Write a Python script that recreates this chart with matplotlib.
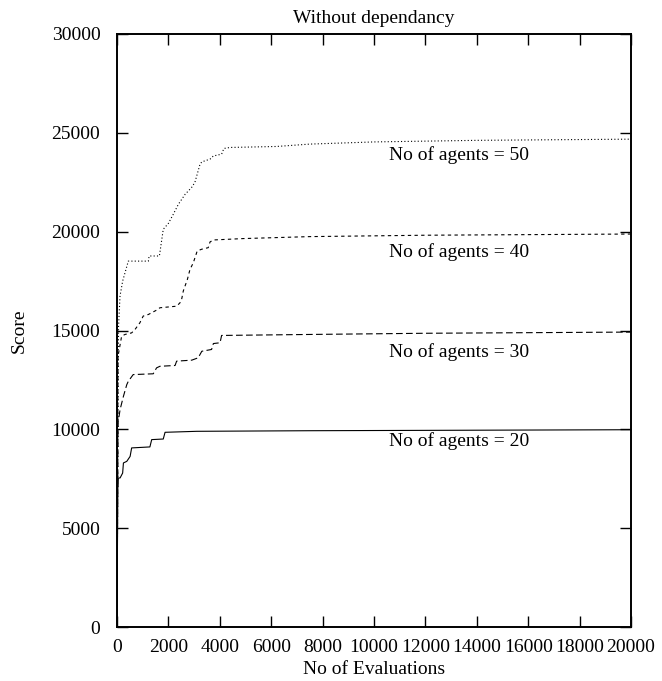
import numpy as np
import matplotlib
matplotlib.use("Agg")
import matplotlib.pyplot as plt

# curve for 50 agents (dotted)
x50 = [0, 60, 117, 220, 440, 1220, 1250, 1650, 1800, 2000, 2190, 2390, 2650, 2900, 3030,
       3230, 3300, 3620, 3750, 4070, 4160, 4400, 6210, 7500, 10000, 14000, 20000]
y50 = [0, 15200, 16740, 17500, 18510, 18510, 18770, 18770, 20120, 20420, 20880, 21390, 21890,
       22230, 22490, 23410, 23530, 23670, 23830, 23920, 24210, 24260, 24310, 24430, 24540, 24620, 24680]

# curve for 40 agents (short dashes)
x40 = [0, 40, 180, 310, 570, 700, 890, 1020, 1220, 1540, 1670, 2320, 2450, 2520, 2580, 2740,
       2840, 2970, 3120, 3290, 3550, 3620, 3750, 4900, 7500, 12000, 20000]
y40 = [0, 13700, 14710, 14800, 14880, 15050, 15390, 15730, 15810, 16030, 16150, 16230, 16400,
       16610, 17000, 17590, 18090, 18430, 19020, 19110, 19190, 19480, 19580, 19650, 19750, 19820, 19880]

# curve for 30 agents (long dashes)
x30 = [0, 40, 120, 250, 380, 440, 630, 1410, 1540, 1670, 2260, 2320, 2910, 3160, 3300, 3680,
       3750, 4010, 4070, 7510, 12000, 20000]
y30 = [0, 10320, 11000, 11670, 12260, 12430, 12770, 12810, 13110, 13190, 13230, 13450, 13500,
       13620, 13950, 14040, 14340, 14380, 14750, 14800, 14860, 14920]

# curve for 20 agents (solid)
x20 = [0, 30, 50, 120, 220, 250, 380, 510, 570, 1280, 1350, 1800, 1870, 3100, 7510, 20000]
y20 = [0, 6940, 7540, 7540, 7790, 8300, 8380, 8630, 9060, 9110, 9480, 9510, 9850, 9900, 9930, 9980]

labels = ["No of agents = 50", "No of agents = 40", "No of agents = 30", "No of agents = 20"]
label_x = 10580
label_y = [23620, 18740, 13670, 9170]   # baselines

plt.rcParams['font.family'] = ['Liberation Serif', 'DejaVu Serif']
plt.rcParams['font.size'] = 14

fig = plt.figure(figsize=(6.62, 6.81), dpi=100)
ax = fig.add_axes([117 / 662, 1 - 627 / 681, 514 / 662, 593 / 681])

ax.plot(x50, y50, color='black', lw=0.8, linestyle=(0, (1, 2)))
ax.plot(x40, y40, color='black', lw=0.8, linestyle=(0, (3, 3)))
ax.plot(x30, y30, color='black', lw=0.8, linestyle=(0, (6, 3)))
ax.plot(x20, y20, color='black', lw=0.8, linestyle='-')

for lab, yy in zip(labels, label_y):
    ax.text(label_x, yy, lab, ha='left', va='baseline', fontsize=14)

ax.set_xlim(0, 20000)
ax.set_ylim(0, 30000)
ax.set_xticks(np.arange(0, 20001, 2000))
ax.set_yticks(np.arange(0, 30001, 5000))
ax.tick_params(direction='in', top=True, right=True, length=8, width=1)
ax.tick_params(axis='x', pad=9)
ax.tick_params(axis='y', pad=12)
for s in ax.spines.values():
    s.set_linewidth(1.4)

ax.set_title("Without dependancy", fontsize=14, pad=8)
ax.set_xlabel("No of Evaluations", labelpad=3)
ax.set_ylabel("Score", labelpad=17)

fig.savefig("out.png", dpi=100)
